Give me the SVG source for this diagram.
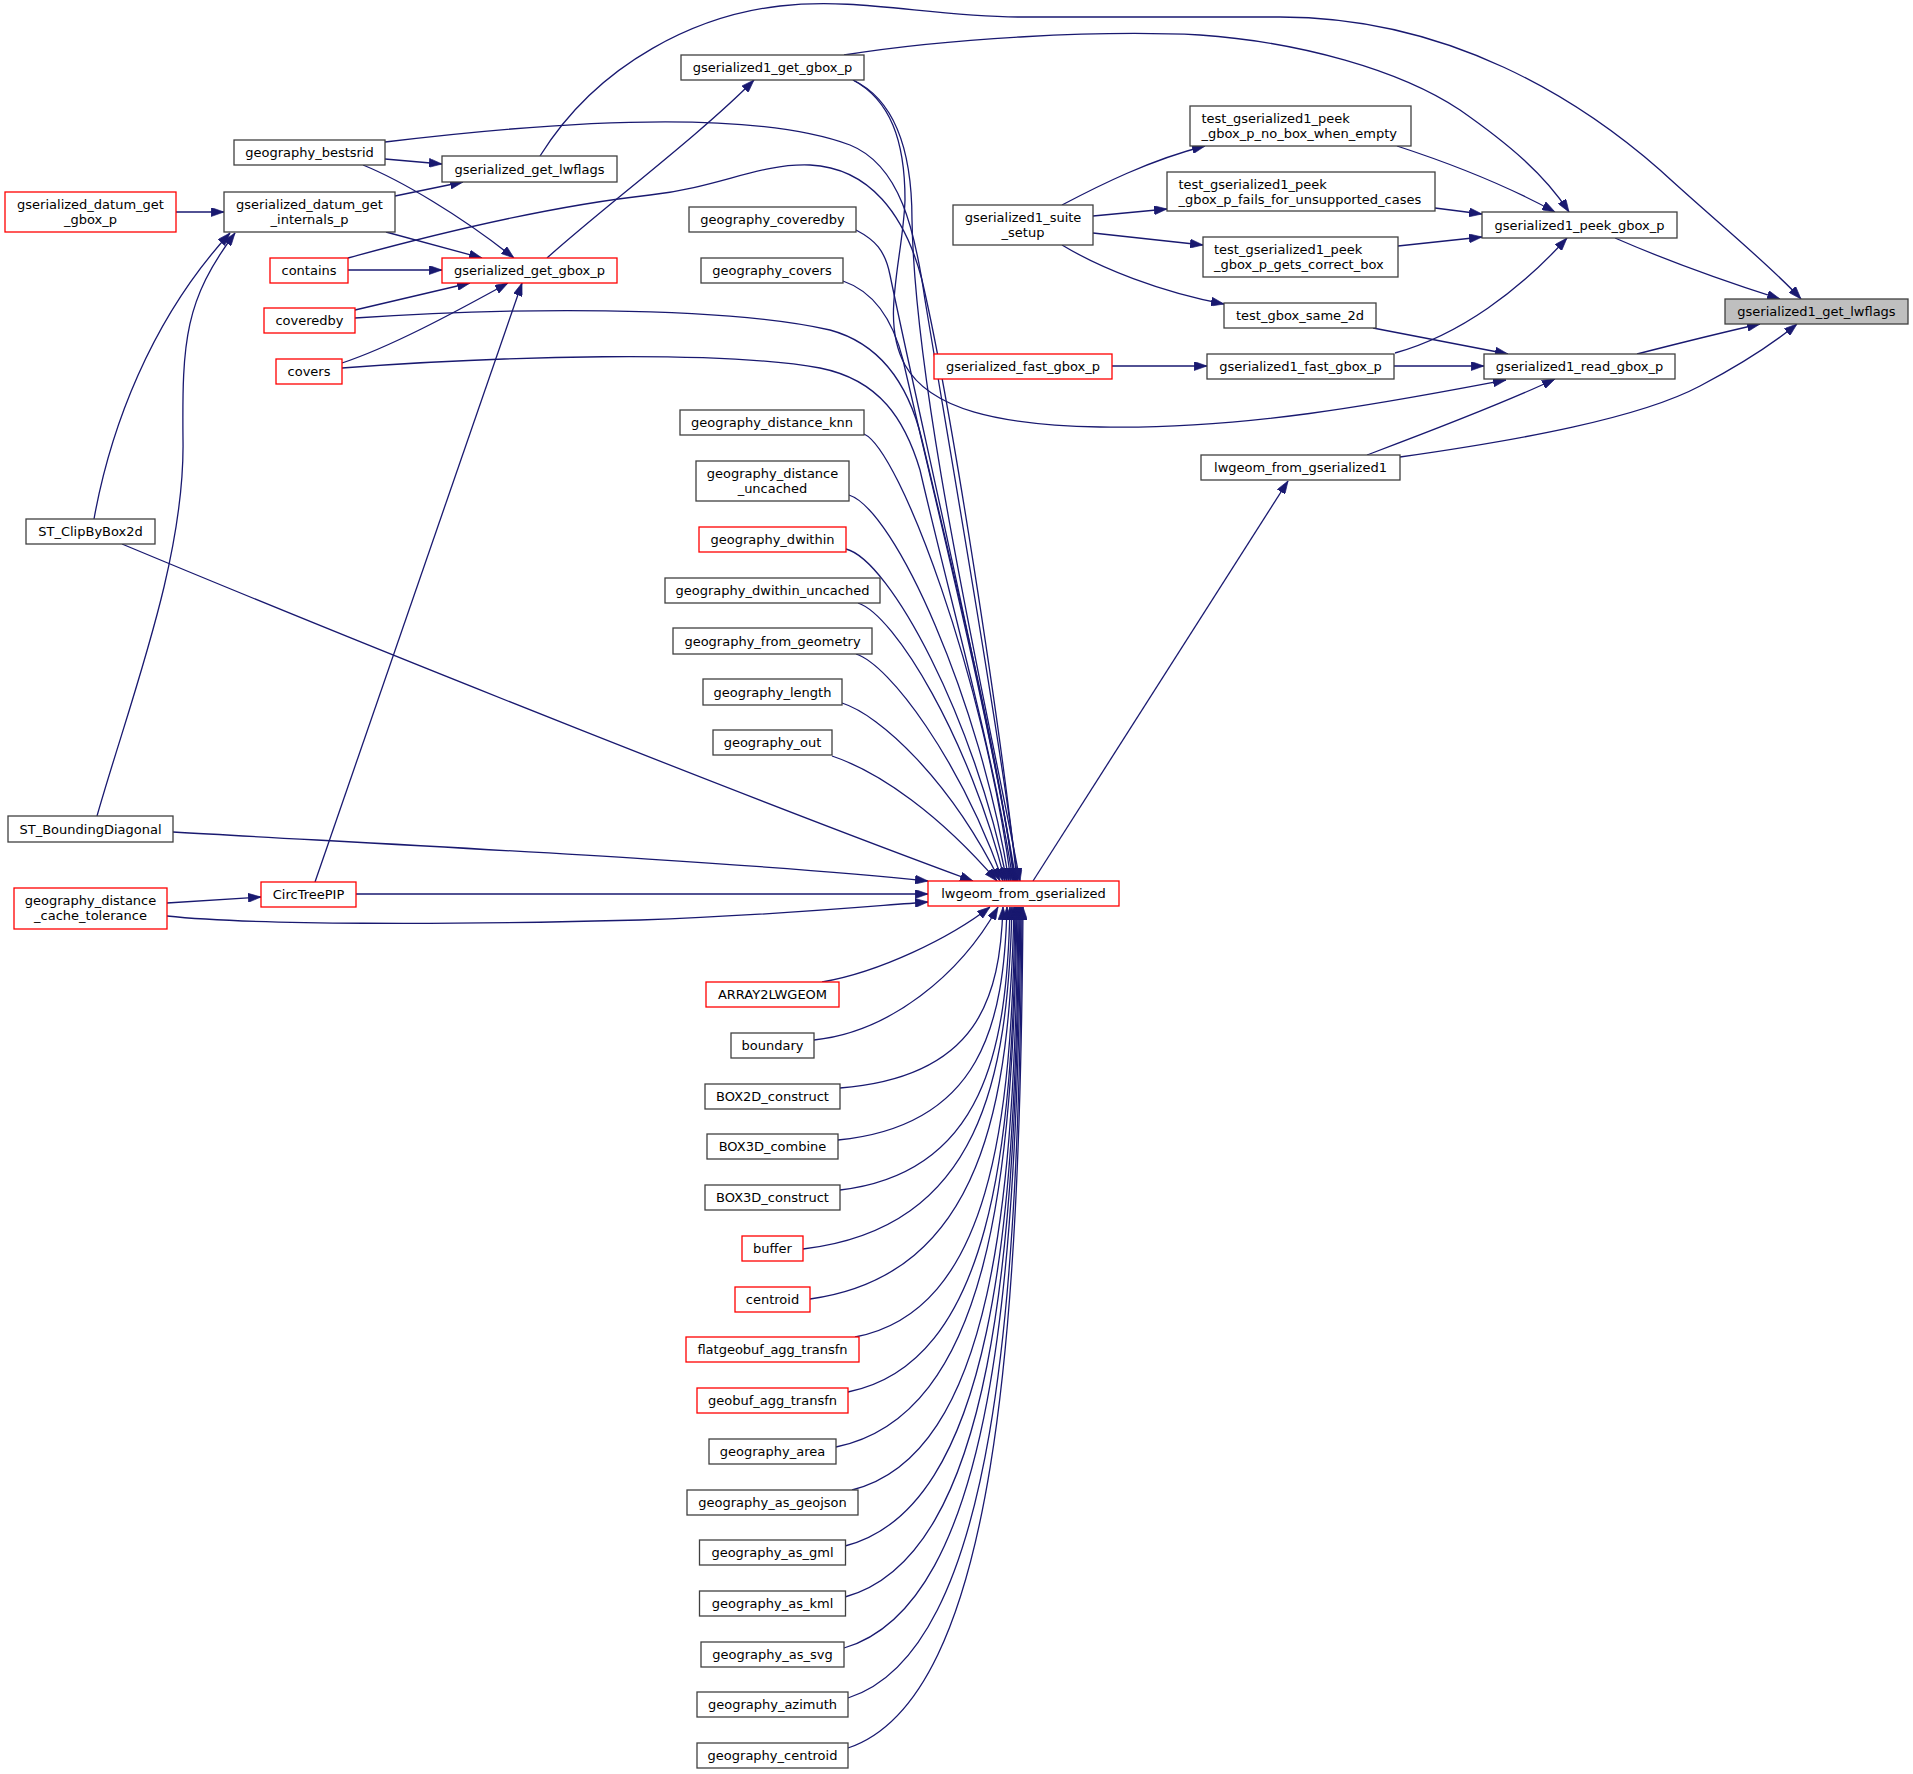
<svg xmlns="http://www.w3.org/2000/svg" width="1913" height="1774" viewBox="0 0 1913 1774">
<style>
.n rect{fill:#fff;stroke:#404040;stroke-width:1.3}
.r rect{fill:#fff;stroke:#ff0000;stroke-width:1.3}
.g rect{fill:#bfbfbf;stroke:#404040;stroke-width:1.3}
text{font-family:"DejaVu Sans","Liberation Sans",sans-serif;font-size:13px;fill:#000;text-anchor:middle}
text.l{text-anchor:start}
.e path{fill:none;stroke:#191970;stroke-width:1.3;marker-end:url(#ah)}
</style>
<defs>
<marker id="ah" viewBox="0 0 10 7" refX="10" refY="3.5" markerWidth="13" markerHeight="9" markerUnits="userSpaceOnUse" orient="auto">
<path d="M0,0L10,3.5L0,7z" fill="#191970" stroke="#191970" stroke-width="0.5"/>
</marker>
</defs>
<rect width="1913" height="1774" fill="#fff"/>
<g id="edges" class="e">
<path d="M1615,238 C1670,262 1730,283 1780,299"/>
<path d="M1637,354 C1680,343 1720,333 1760,324"/>
<path d="M1400,457 C1520,440 1640,418 1700,386 C1740,365 1775,342 1797,324"/>
<path d="M540,156 C600,60 700,15 780,6 C860,-3 930,17 1020,17 L1280,17 C1450,17 1580,100 1660,170 C1720,225 1770,265 1801,299"/>
<path d="M844,55 C950,38 1100,30 1200,35 C1300,42 1400,70 1460,110 C1510,145 1545,175 1569,212"/>
<path d="M1397,146 C1440,160 1500,182 1555,212"/>
<path d="M1435,208 L1482,214"/>
<path d="M1398,246 L1482,237"/>
<path d="M1395,353 C1460,335 1520,290 1567,238"/>
<path d="M1373,328 L1508,354"/>
<path d="M1394,366 L1484,366"/>
<path d="M1367,455 C1420,435 1500,405 1555,379"/>
<path d="M853,80 C890,100 905,140 905,200 C903,260 880,320 905,365 C930,410 1000,425 1100,427 C1250,430 1400,400 1506,380"/>
<path d="M1033,881 L1288,481"/>
<path d="M176,212 L224,212"/>
<path d="M94,519 C110,430 150,320 230,233"/>
<path d="M97,816 C130,700 185,560 183,440 C182,340 185,300 235,233"/>
<path d="M395,196 L463,182"/>
<path d="M386,232 L482,258"/>
<path d="M385,159 L442,164"/>
<path d="M363,165 C400,180 460,215 514,258"/>
<path d="M348,270 L442,270"/>
<path d="M355,310 L470,283"/>
<path d="M342,363 C390,347 450,315 508,283"/>
<path d="M315,882 L522,283"/>
<path d="M547,258 C600,210 700,135 754,80"/>
<path d="M1112,366 L1207,366"/>
<path d="M1062,205 C1100,185 1150,160 1205,146"/>
<path d="M1093,216 L1167,209"/>
<path d="M1093,233 L1203,245"/>
<path d="M1062,245 C1100,268 1160,292 1224,304"/>
<path d="M167,903 L261,897"/>
<path d="M173,832 C400,845 750,862 928,881"/>
<path d="M356,894 L928,894"/>
<path d="M167,916 C250,925 450,925 640,920 C780,915 860,907 928,902"/>
<path d="M122,544 C400,660 780,810 973,881"/>
<path d="M832,756 C880,772 940,815 997,881"/>
<path d="M842,703 C880,715 950,780 1000,881"/>
<path d="M856,654 C890,665 960,760 1003,881"/>
<path d="M858,603 C895,615 970,740 1005,881"/>
<path d="M846,549 C890,560 975,720 1007,881"/>
<path d="M849,495 C895,510 980,700 1009,881"/>
<path d="M864,434 C900,450 985,680 1011,881"/>
<path d="M342,368 C500,356 720,350 820,368 C880,380 905,420 920,470 C950,600 995,760 1013,881"/>
<path d="M355,318 C500,308 720,305 830,330 C885,345 910,390 922,440 C955,580 1000,760 1014,881"/>
<path d="M843,281 C875,292 893,320 903,360 C935,500 995,740 1015,881"/>
<path d="M856,230 C875,240 885,250 890,275 C920,420 990,720 1016,881"/>
<path d="M348,258 C450,230 560,205 650,195 C720,187 760,163 810,165 C870,168 905,215 922,280 C950,400 1000,720 1017,881"/>
<path d="M385,142 C550,122 750,108 850,145 C900,165 915,230 925,300 C955,480 1000,740 1018,881"/>
<path d="M853,80 C895,100 912,150 912,220 C915,400 990,720 1020,881"/>
<path d="M822,982 C880,972 950,938 990,907"/>
<path d="M814,1040 C890,1032 960,975 998,907"/>
<path d="M840,1088 C979,1077 1000,997 1003,907"/>
<path d="M838,1140 C982,1126 1004,1023 1007,907"/>
<path d="M840,1190 C985,1173 1007,1048 1010,907"/>
<path d="M803,1249 C981,1228 1008,1078 1012,907"/>
<path d="M810,1299 C983,1275 1010,1103 1014,907"/>
<path d="M855,1337 C991,1311 1012,1122 1015,907"/>
<path d="M848,1392 C991,1363 1013,1150 1016,907"/>
<path d="M836,1447 C990,1415 1013,1177 1017,907"/>
<path d="M852,1490 C993,1455 1015,1199 1018,907"/>
<path d="M845,1546 C993,1508 1016,1227 1019,907"/>
<path d="M845,1597 C994,1556 1016,1252 1020,907"/>
<path d="M844,1648 C994,1604 1017,1278 1021,907"/>
<path d="M848,1698 C996,1651 1019,1303 1022,907"/>
<path d="M848,1748 C997,1698 1020,1328 1023,907"/>
</g>
<g id="n_gserialized1_get_lwflags" class="g"><rect x="1725" y="299" width="183" height="25"/><text x="1816.5" y="316">gserialized1_get_lwflags</text></g>
<g id="n_gserialized1_peek_gbox_p" class="n"><rect x="1482" y="212" width="195" height="26"/><text x="1579.5" y="229.5">gserialized1_peek_gbox_p</text></g>
<g id="n_gserialized1_read_gbox_p" class="n"><rect x="1484" y="354" width="191" height="25"/><text x="1579.5" y="371">gserialized1_read_gbox_p</text></g>
<g id="n_lwgeom_from_gserialized1" class="n"><rect x="1201" y="455" width="199" height="25"/><text x="1300.5" y="472">lwgeom_from_gserialized1</text></g>
<g id="n_gserialized_get_lwflags" class="n"><rect x="442" y="156" width="175" height="26"/><text x="529.5" y="173.5">gserialized_get_lwflags</text></g>
<g id="n_gserialized1_get_gbox_p" class="n"><rect x="681" y="55" width="183" height="25"/><text x="772.5" y="72">gserialized1_get_gbox_p</text></g>
<g id="n_test_no_box" class="n"><rect x="1190" y="106" width="221" height="40"/><text class="l" x="1201.5" y="122.5">test_gserialized1_peek</text><text class="l" x="1201.5" y="137.5">_gbox_p_no_box_when_empty</text></g>
<g id="n_test_fails" class="n"><rect x="1167" y="172" width="268" height="39"/><text class="l" x="1178.5" y="188.5">test_gserialized1_peek</text><text class="l" x="1178.5" y="203.5">_gbox_p_fails_for_unsupported_cases</text></g>
<g id="n_test_gets" class="n"><rect x="1203" y="237" width="195" height="40"/><text class="l" x="1214" y="253.5">test_gserialized1_peek</text><text class="l" x="1214" y="268.5">_gbox_p_gets_correct_box</text></g>
<g id="n_test_gbox_same_2d" class="n"><rect x="1224" y="303" width="152" height="25"/><text x="1300" y="320">test_gbox_same_2d</text></g>
<g id="n_gserialized1_fast_gbox_p" class="n"><rect x="1207" y="354" width="187" height="25"/><text x="1300.5" y="371">gserialized1_fast_gbox_p</text></g>
<g id="n_gserialized_fast_gbox_p" class="r"><rect x="934" y="354" width="178" height="25"/><text x="1023" y="371">gserialized_fast_gbox_p</text></g>
<g id="n_gserialized1_suite_setup" class="n"><rect x="953" y="205" width="140" height="40"/><text x="1023" y="221.5">gserialized1_suite</text><text x="1023" y="236.5">_setup</text></g>
<g id="n_lwgeom_from_gserialized" class="r"><rect x="928" y="881" width="191" height="25"/><text x="1023.5" y="898">lwgeom_from_gserialized</text></g>
<g id="n_geography_bestsrid" class="n"><rect x="234" y="140" width="151" height="25"/><text x="309.5" y="157">geography_bestsrid</text></g>
<g id="n_gserialized_datum_get_internals_p" class="n"><rect x="224" y="192" width="171" height="40"/><text x="309.5" y="208.5">gserialized_datum_get</text><text x="309.5" y="223.5">_internals_p</text></g>
<g id="n_gserialized_datum_get_gbox_p" class="r"><rect x="5" y="192" width="171" height="40"/><text x="90.5" y="208.5">gserialized_datum_get</text><text x="90.5" y="223.5">_gbox_p</text></g>
<g id="n_contains" class="r"><rect x="270" y="258" width="78" height="25"/><text x="309" y="275">contains</text></g>
<g id="n_gserialized_get_gbox_p" class="r"><rect x="442" y="258" width="175" height="25"/><text x="529.5" y="275">gserialized_get_gbox_p</text></g>
<g id="n_coveredby" class="r"><rect x="264" y="308" width="91" height="25"/><text x="309.5" y="325">coveredby</text></g>
<g id="n_covers" class="r"><rect x="276" y="359" width="66" height="25"/><text x="309" y="376">covers</text></g>
<g id="n_ST_ClipByBox2d" class="n"><rect x="26" y="519" width="129" height="25"/><text x="90.5" y="536">ST_ClipByBox2d</text></g>
<g id="n_ST_BoundingDiagonal" class="n"><rect x="8" y="816" width="165" height="26"/><text x="90.5" y="833.5">ST_BoundingDiagonal</text></g>
<g id="n_CircTreePIP" class="r"><rect x="261" y="882" width="95" height="25"/><text x="308.5" y="899">CircTreePIP</text></g>
<g id="n_geography_distance_cache_tolerance" class="r"><rect x="14" y="888" width="153" height="41"/><text x="90.5" y="905">geography_distance</text><text x="90.5" y="920">_cache_tolerance</text></g>
<g id="n_geography_coveredby" class="n"><rect x="689" y="207" width="167" height="25"/><text x="772.5" y="224">geography_coveredby</text></g>
<g id="n_geography_covers" class="n"><rect x="701" y="258" width="142" height="25"/><text x="772" y="275">geography_covers</text></g>
<g id="n_geography_distance_knn" class="n"><rect x="680" y="410" width="184" height="25"/><text x="772" y="427">geography_distance_knn</text></g>
<g id="n_geography_distance_uncached" class="n"><rect x="696" y="461" width="153" height="40"/><text x="772.5" y="477.5">geography_distance</text><text x="772.5" y="492.5">_uncached</text></g>
<g id="n_geography_dwithin" class="r"><rect x="699" y="527" width="147" height="25"/><text x="772.5" y="544">geography_dwithin</text></g>
<g id="n_geography_dwithin_uncached" class="n"><rect x="665" y="578" width="215" height="25"/><text x="772.5" y="595">geography_dwithin_uncached</text></g>
<g id="n_geography_from_geometry" class="n"><rect x="673" y="628" width="199" height="26"/><text x="772.5" y="645.5">geography_from_geometry</text></g>
<g id="n_geography_length" class="n"><rect x="703" y="679" width="139" height="26"/><text x="772.5" y="696.5">geography_length</text></g>
<g id="n_geography_out" class="n"><rect x="713" y="730" width="119" height="25"/><text x="772.5" y="747">geography_out</text></g>
<g id="n_ARRAY2LWGEOM" class="r"><rect x="706" y="982" width="133" height="25"/><text x="772.5" y="999">ARRAY2LWGEOM</text></g>
<g id="n_boundary" class="n"><rect x="731" y="1033" width="83" height="25"/><text x="772.5" y="1050">boundary</text></g>
<g id="n_BOX2D_construct" class="n"><rect x="705" y="1084" width="135" height="25"/><text x="772.5" y="1101">BOX2D_construct</text></g>
<g id="n_BOX3D_combine" class="n"><rect x="707" y="1134" width="131" height="25"/><text x="772.5" y="1151">BOX3D_combine</text></g>
<g id="n_BOX3D_construct" class="n"><rect x="705" y="1185" width="135" height="25"/><text x="772.5" y="1202">BOX3D_construct</text></g>
<g id="n_buffer" class="r"><rect x="742" y="1236" width="61" height="25"/><text x="772.5" y="1253">buffer</text></g>
<g id="n_centroid" class="r"><rect x="735" y="1287" width="75" height="25"/><text x="772.5" y="1304">centroid</text></g>
<g id="n_flatgeobuf_agg_transfn" class="r"><rect x="686" y="1337" width="173" height="25"/><text x="772.5" y="1354">flatgeobuf_agg_transfn</text></g>
<g id="n_geobuf_agg_transfn" class="r"><rect x="697" y="1388" width="151" height="25"/><text x="772.5" y="1405">geobuf_agg_transfn</text></g>
<g id="n_geography_area" class="n"><rect x="709" y="1439" width="127" height="25"/><text x="772.5" y="1456">geography_area</text></g>
<g id="n_geography_as_geojson" class="n"><rect x="687" y="1490" width="171" height="25"/><text x="772.5" y="1507">geography_as_geojson</text></g>
<g id="n_geography_as_gml" class="n"><rect x="699.5" y="1540" width="146" height="25"/><text x="772.5" y="1557">geography_as_gml</text></g>
<g id="n_geography_as_kml" class="n"><rect x="699.5" y="1591" width="146" height="25"/><text x="772.5" y="1608">geography_as_kml</text></g>
<g id="n_geography_as_svg" class="n"><rect x="701" y="1642" width="143" height="25"/><text x="772.5" y="1659">geography_as_svg</text></g>
<g id="n_geography_azimuth" class="n"><rect x="697" y="1692" width="151" height="25"/><text x="772.5" y="1709">geography_azimuth</text></g>
<g id="n_geography_centroid" class="n"><rect x="697" y="1743" width="151" height="25"/><text x="772.5" y="1760">geography_centroid</text></g>
</svg>
